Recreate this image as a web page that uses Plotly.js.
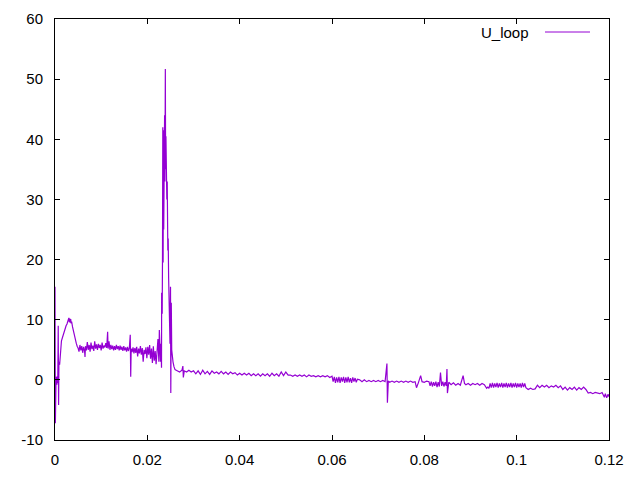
<!DOCTYPE html>
<html>
<head>
<meta charset="utf-8">
<script src="https://cdn.plot.ly/plotly-3.0.1.min.js"></script>
<style>html,body{margin:0;padding:0;background:#fff;}#chart{width:640px;height:480px;}</style>
</head>
<body>
<div id="chart"></div>
<script>
// Start-up transient and oscillation
const tStart = [0, 0.00008, 0.00015, 0.0002, 0.0003, 0.0004, 0.0005, 0.0006, 0.0007, 0.00078, 0.00085, 0.001, 0.0012, 0.0014, 0.0016, 0.0018, 0.002, 0.0022, 0.0024, 0.0026, 0.0028, 0.003, 0.0031, 0.0032, 0.0033, 0.0034, 0.0035, 0.0036, 0.0038, 0.004, 0.0042, 0.0044, 0.0046, 0.0048, 0.005,
  0.0052, 0.0054, 0.0056, 0.0058, 0.006, 0.0062, 0.0064, 0.0065, 0.0066, 0.0068, 0.007, 0.0072, 0.0074, 0.0076, 0.0078, 0.008, 0.0082, 0.0084, 0.0086, 0.0088, 0.009, 0.0092, 0.0094, 0.0096, 0.0098, 0.01, 0.0102, 0.0104, 0.0106,
  0.0108, 0.011, 0.0112, 0.0114, 0.0115, 0.0117, 0.0119, 0.0121, 0.0123, 0.0125, 0.0127, 0.0129, 0.0131, 0.0133, 0.0135, 0.0137, 0.0139, 0.0141, 0.0143, 0.0145, 0.0147, 0.0149, 0.0151, 0.0153, 0.0155, 0.0157, 0.0159, 0.0161, 0.0163, 0.0164, 0.0165, 0.0167, 0.0169, 0.0171, 0.0173, 0.0175, 0.0177, 0.0179, 0.0181, 0.0183, 0.0185, 0.0187, 0.0189, 0.0191, 0.0193, 0.0195, 0.0197, 0.0199, 0.0201, 0.0203, 0.0205, 0.0207, 0.0209, 0.0211, 0.0213, 0.0215, 0.0217, 0.0219, 0.0221, 0.0223, 0.0225, 0.0226];
const uStart = [15.5, -7.2, 1, -1, 0.5, -0.8, 0.6, -0.5, 9, -4.2, 3, 2.5, 5, 6.5, 7, 7.6, 8, 8.5, 9, 9.3, 9.8, 10.3, 9.6, 10.2, 9.5, 10.1, 9.4, 9.7, 8.8, 8, 7.3, 6.6, 6.1, 5.6, 5.3,
  4.7, 5.8, 4.9, 5.6, 4.5, 5.5, 4.8, 3.8, 5.6, 4.9, 6.3, 5.0, 5.8, 4.7, 6.2, 5.1, 5.7, 4.8, 6.4, 5.2, 5.9, 5.0, 6.0, 5.3, 5.8, 4.9, 6.2, 5.2, 5.7,
  5.4, 6.1, 5.3, 8.0, 5.2, 6.4, 5.0, 5.8, 5.1, 5.7, 4.9, 5.6, 5.0, 5.8, 5.1, 5.6, 4.9, 5.7, 5.0, 5.5, 4.8, 5.6, 4.9, 5.4, 4.7, 5.5, 4.8, 5.3, 7.5, 0.5, 5.2, 4.6, 5.4, 4.4, 5.3, 4.5, 5.5, 3.9, 5.2, 4.4, 5.6, 4.2, 5.3, 3.0, 5.0, 4.3, 5.4, 3.6, 5.5, 4.2, 5.8, 3.5, 5.2, 2.8, 5.6, 3.2, 4.8, 2.6, 5.2, 6.8, 3.0, 8.3];

// Voltage spike
const tSpike = [0.02285, 0.02296, 0.02307, 0.0231, 0.02322, 0.02328, 0.02335, 0.02342, 0.02349, 0.02355, 0.02361, 0.02368, 0.02374, 0.02381, 0.0239, 0.02396, 0.02403, 0.02409, 0.02416, 0.02422, 0.02431, 0.02437, 0.02444, 0.02452, 0.02461, 0.0247, 0.0248, 0.02491, 0.02502, 0.02508, 0.02519, 0.02528, 0.02538, 0.02556, 0.02577, 0.026, 0.02625];
const uSpike = [3, 6, 2, 14.5, 11, 20, 42, 19.5, 41.5, 25, 40, 30, 44, 33, 51.7, 35, 40.5, 32, 38, 30, 33, 23.8, 21.5, 23.5, 17, 13.8, 9, 6, 15.5, -2.2, 12.8, 5, 3.5, 3, 2.2, 1.7, 1.6];

// Slow decay tail
const tTail = [0.0265, 0.027, 0.0275, 0.0277, 0.0278, 0.028, 0.0285, 0.029, 0.0295, 0.03, 0.0305, 0.031, 0.0315, 0.032, 0.0325, 0.033, 0.0335, 0.034, 0.0345, 0.035, 0.0355, 0.036, 0.0365, 0.037, 0.0375, 0.038, 0.0385, 0.039, 0.0395, 0.04,
  0.0405, 0.041, 0.0415, 0.042, 0.0425, 0.043, 0.0435, 0.044, 0.0445, 0.045, 0.0455, 0.046, 0.0465, 0.047, 0.0475, 0.048, 0.0485, 0.049, 0.0495, 0.05,
  0.0505, 0.051, 0.0515, 0.052, 0.0525, 0.053, 0.0535, 0.054, 0.0545, 0.055, 0.0555, 0.056, 0.0565, 0.057, 0.0575, 0.058, 0.0585, 0.059, 0.0595,
  0.06, 0.06025, 0.0605, 0.06075, 0.061, 0.06125, 0.0615, 0.06175, 0.062, 0.06225, 0.0625, 0.06275, 0.063, 0.06325, 0.0635, 0.06375, 0.064, 0.06425, 0.0645, 0.06475, 0.065, 0.06525, 0.0655,
  0.066, 0.0665, 0.067, 0.0675, 0.068, 0.0685, 0.069, 0.0695, 0.07,
  0.0705, 0.071, 0.0715, 0.0719, 0.072, 0.0722, 0.0725, 0.073, 0.0735, 0.074, 0.0745, 0.075, 0.0755, 0.076, 0.0765, 0.077, 0.0775, 0.078, 0.0783, 0.0787, 0.0792, 0.0795, 0.08, 0.0805,
  0.081, 0.08125, 0.0815, 0.08175, 0.082, 0.08225, 0.0825, 0.08275, 0.083, 0.08325, 0.0835, 0.08375, 0.084, 0.08425, 0.0845, 0.08475, 0.0849, 0.085,
  0.0853, 0.0858, 0.0863, 0.0868, 0.0873, 0.0878, 0.0884, 0.0887, 0.089, 0.0895, 0.09, 0.0905, 0.091, 0.0915, 0.092, 0.0925, 0.093,
  0.0935, 0.09375, 0.094, 0.09425, 0.0945, 0.09475, 0.095, 0.09525, 0.0955, 0.09575, 0.096, 0.09625, 0.0965, 0.09675, 0.097, 0.09725, 0.0975, 0.09775, 0.098, 0.09825, 0.0985, 0.09875, 0.099, 0.09925, 0.0995, 0.09975, 0.1, 0.10025, 0.1005, 0.10075, 0.101, 0.10125, 0.1015, 0.10175, 0.102,
  0.10225, 0.1025, 0.103, 0.1035, 0.104, 0.1045, 0.105, 0.1055, 0.106, 0.1065, 0.107, 0.1075, 0.108, 0.1085, 0.109, 0.1095, 0.11,
  0.1105, 0.111, 0.1115, 0.112, 0.1125, 0.113, 0.1135, 0.114, 0.1145, 0.115, 0.1155, 0.116, 0.1165, 0.117, 0.1175, 0.118, 0.1185, 0.119, 0.1192, 0.1195, 0.1198, 0.12];
const uTail = [1.5, 1.3, 1.6, 2.3, 0.4, 1.5, 1.3, 1.6, 1.3, 1.5, 1.0, 1.5, 0.9, 1.6, 1.0, 1.4, 0.9, 1.5, 1.1, 1.3, 1.0, 1.4, 1.0, 1.3, 0.9, 1.3, 1.0, 1.2, 0.8, 1.1,
  0.8, 1.1, 0.8, 1.1, 0.7, 1.0, 0.7, 1.0, 0.6, 1.0, 0.7, 1.0, 0.6, 1.1, 0.7, 1.0, 0.6, 1.3, 0.7, 1.3,
  0.8, 0.8, 0.6, 0.8, 0.6, 0.8, 0.6, 0.8, 0.5, 0.8, 0.6, 0.7, 0.5, 0.7, 0.5, 0.7, 0.5, 0.7, 0.4,
  0.6, -0.3, 0.5, -0.5, 0.4, -0.4, 0.5, -0.5, 0.4, -0.3, 0.5, -0.5, 0.4, -0.4, 0.5, -0.4, 0.3, -0.5, 0.4, -0.3, 0.3, -0.4, 0.1,
  0.0, -0.3, 0.0, -0.3, -0.1, -0.3, -0.1, -0.3, -0.1,
  -0.3, -0.1, -0.3, 2.7, -3.8, -0.2, -0.4, -0.2, -0.4, -0.2, -0.4, -0.2, -0.4, -0.2, -0.4, -0.2, -0.4, -0.3, -1.3, -0.5, 0.7, -0.3, -0.4, -0.2,
  -0.3, -1.0, -0.3, -1.1, -0.4, -1.0, -0.3, -1.2, -0.4, -1.1, 1.2, -1.0, -0.3, -1.1, -0.4, -1.0, 1.8, -2.2,
  -0.4, -0.8, -0.5, -0.9, -0.6, -0.9, 0.7, -0.6, -0.8, -0.6, -0.9, -0.6, -0.8, -0.6, -0.9, -0.6, -0.8,
  -1.4, -1.2, -1.4, -0.6, -1.3, -0.5, -1.3, -0.6, -1.2, -0.5, -1.3, -0.6, -1.2, -0.5, -1.3, -0.6, -1.2, -0.5, -1.3, -0.6, -1.2, -0.5, -1.3, -0.6, -1.2, -0.5, -1.3, -0.6, -1.2, -0.6, -1.3, -0.5, -1.2, -0.6, -1.3,
  -1.5, -1.6, -1.4, -1.6, -1.5, -0.9, -1.3, -0.9, -1.2, -0.9, -1.3, -1.0, -1.2, -0.9, -1.3, -1.0, -1.6,
  -1.2, -1.7, -1.3, -1.6, -1.2, -1.7, -1.3, -1.6, -1.2, -1.6, -2.2, -2.1, -2.3, -2.1, -2.2, -2.3, -2.1, -2.9, -2.3, -3.0, -2.4, -2.8];

const xTickVals = [0, 0.02, 0.04, 0.06, 0.08, 0.1, 0.12];
const xTickText = ["0", "0.02", "0.04", "0.06", "0.08", "0.1", "0.12"];
const yTickVals = [-10, 0, 10, 20, 30, 40, 50, 60];
const yTickText = ["-10", "0", "10", "20", "30", "40", "50", "60"];
const seriesName = "U_loop";

const t = tStart.concat(tSpike, tTail);
const u = uStart.concat(uSpike, uTail);

const lineColor = "#9400D3";
const fontFam = "Liberation Sans, Arial, sans-serif";

const trace = {
  x: t, y: u, type: "scatter", mode: "lines", name: seriesName,
  line: {color: lineColor, width: 1.2}, showlegend: false, hoverinfo: "skip"
};

const axisCommon = {
  showgrid: false, zeroline: false, showline: true, linecolor: "#000", linewidth: 1,
  mirror: "ticks", ticks: "inside", ticklen: 5, tickcolor: "#000", tickwidth: 1,
  tickfont: {family: fontFam, size: 15, color: "#000"}
};

const layout = {
  width: 640, height: 480,
  margin: {l: 55, r: 31, t: 19, b: 40, pad: 0},
  paper_bgcolor: "#fff", plot_bgcolor: "#fff",
  xaxis: Object.assign({}, axisCommon, {range: [0, 0.12], tickmode: "array", tickvals: xTickVals, ticktext: xTickText, ticklabelstandoff: 6}),
  yaxis: Object.assign({}, axisCommon, {range: [-10, 60], tickmode: "array", tickvals: yTickVals, ticktext: yTickText, ticklabelstandoff: 8}),
  annotations: [{
    xref: "paper", yref: "paper", x: 0.8592, y: 0.9691, xanchor: "right", yanchor: "middle",
    text: seriesName, showarrow: false, font: {family: fontFam, size: 15, color: "#000"}
  }],
  shapes: [{
    type: "line", xref: "paper", yref: "paper", x0: 0.8845, x1: 0.9657, y0: 0.9691, y1: 0.9691,
    line: {color: lineColor, width: 1}
  }]
};

Plotly.newPlot("chart", [trace], layout, {staticPlot: true, displayModeBar: false});
</script>
</body>
</html>
